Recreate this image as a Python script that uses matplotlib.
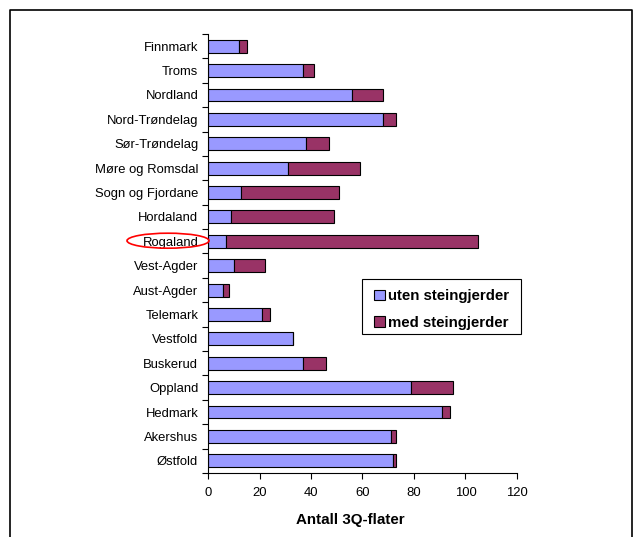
import matplotlib
matplotlib.use("Agg")
import matplotlib.pyplot as plt
from matplotlib.patches import Ellipse, Patch, Rectangle
from matplotlib.lines import Line2D
import numpy as np

plt.rcParams['font.family'] = ['Liberation Sans', 'DejaVu Sans']

counties = ["Finnmark", "Troms", "Nordland", "Nord-Trøndelag", "Sør-Trøndelag",
            "Møre og Romsdal", "Sogn og Fjordane", "Hordaland", "Rogaland",
            "Vest-Agder", "Aust-Agder", "Telemark", "Vestfold", "Buskerud",
            "Oppland", "Hedmark", "Akershus", "Østfold"]
uten = [12, 37, 56, 68, 38, 31, 13, 9, 7, 10, 6, 21, 33, 37, 79, 91, 71, 72]
med = [3, 4, 12, 5, 9, 28, 38, 40, 98, 12, 2, 3, 0, 9, 16, 3, 2, 1]
xticks = [0, 20, 40, 60, 80, 100, 120]

blue = "#9999FF"
maroon = "#993366"

fig = plt.figure(figsize=(6.39, 5.37), dpi=100)
ax = fig.add_axes([208/639, 1-473/537, 309/639, 439/537])

y = np.arange(len(counties))[::-1]
ax.barh(y, uten, height=0.53, color=blue, edgecolor="black", linewidth=0.8)
ax.barh(y, med, left=uten, height=0.53, color=maroon, edgecolor="black", linewidth=0.8)

ax.set_xlim(0, 120)
ax.set_ylim(-0.5, len(counties) - 0.5)
ax.set_xticks(xticks)
ax.set_yticks(y)
ax.set_yticklabels(counties, fontsize=9.4)
ax.tick_params(axis="y", length=0, pad=7)
ax.set_yticks(np.arange(len(counties) + 1) - 0.5, minor=True)
ax.tick_params(axis="y", which="minor", length=4, width=0.8)
ax.tick_params(axis="x", length=4, width=0.8, labelsize=9.4, pad=6)
for s in ["top", "right"]:
    ax.spines[s].set_visible(False)
for s in ["left", "bottom"]:
    ax.spines[s].set_linewidth(0.8)

fig.text(350/639, 1-520/537, "Antall 3Q-flater", fontsize=10.9,
         fontweight="bold", ha="center", va="center")

# legend entries, with a plain rectangular box drawn around them
handles = [Patch(facecolor=blue, edgecolor="black", linewidth=0.8),
           Patch(facecolor=maroon, edgecolor="black", linewidth=0.8)]
fig.legend(handles, ["uten steingjerder", "med steingjerder"],
           loc="upper left", bbox_to_anchor=(374/639, 1-289/537),
           frameon=False, prop={"weight": "bold", "size": 10.8},
           handlelength=0.7, handleheight=0.7, handletextpad=0.25,
           labelspacing=0.85, borderpad=0, borderaxespad=0)
fig.add_artist(Rectangle((362/639, 1-334/537), 159/639, 55/537,
                         transform=fig.transFigure, fill=False,
                         edgecolor="black", linewidth=0.8))

# highlight ring around one county label
fig.add_artist(Ellipse((168/639, 1-240.7/537), 82/639, 15/537,
                       transform=fig.transFigure, fill=False,
                       edgecolor="red", linewidth=1.2))

# outer frame, open at the bottom
fx = [10/639, 10/639, 632/639, 632/639]
fy = [0, 1-10/537, 1-10/537, 0]
fig.add_artist(Line2D(fx, fy, transform=fig.transFigure, color="black", linewidth=1.2))

fig.savefig("out.png", dpi=100)
